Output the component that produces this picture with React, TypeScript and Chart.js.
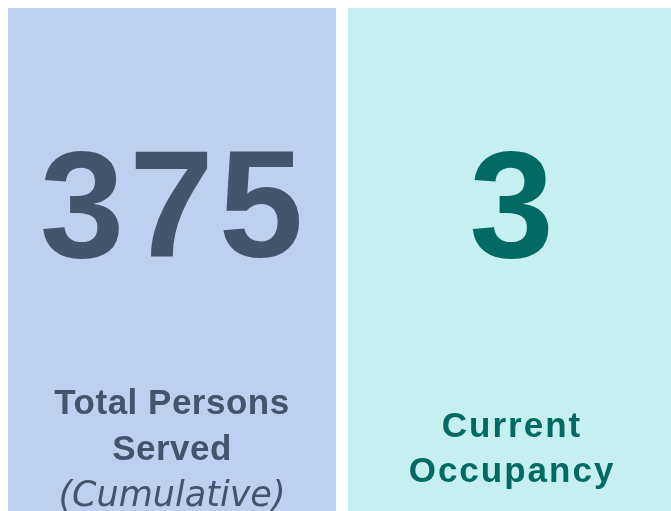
import React, { useEffect, useRef } from "react";
import { Chart, registerables } from "chart.js";

Chart.register(...registerables);

const categories = ["Total Persons Served (Cumulative)", "Current Occupancy"];
const kpiValues = [375, 3];
const cardHeights = [1, 1];
const labelLines = [
  [
    { text: "Total Persons", italic: false },
    { text: "Served", italic: false },
    { text: "(Cumulative)", italic: true },
  ],
  [
    { text: "Current", italic: false },
    { text: "Occupancy", italic: false },
  ],
];
const cardColors = ["#BFCFEF", "#C5F0EF"];
const textColors = ["#44546A", "#006A63"];

const kpiTextPlugin = {
  id: "kpiText",
  afterDatasetsDraw(chart: any) {
    const ctx = chart.ctx;
    const meta = chart.getDatasetMeta(0);
    ctx.save();
    ctx.textAlign = "center";
    ctx.textBaseline = "alphabetic";
    meta.data.forEach((bar: any, i: number) => {
      const x = bar.x;
      ctx.fillStyle = textColors[i];
      ctx.font = 'bold 152px "Liberation Sans", Arial, sans-serif';
      (ctx as any).letterSpacing = "5px";
      ctx.fillText(String(kpiValues[i]), x + 2, 257);
      const lines = labelLines[i];
      const baselines = i === 0 ? [414, 460, 506] : [437, 482];
      lines.forEach((ln, j) => {
        if (ln.italic) {
          ctx.font = 'oblique 35px "DejaVu Sans", sans-serif';
          (ctx as any).letterSpacing = "0px";
        } else {
          ctx.font = 'bold 35px "Liberation Sans", Arial, sans-serif';
          (ctx as any).letterSpacing = i === 1 ? "2px" : "0.5px";
        }
        ctx.fillText(ln.text, x, baselines[j]);
      });
    });
    ctx.restore();
  },
};

export default function App() {
  const ref = useRef<HTMLCanvasElement | null>(null);
  useEffect(() => {
    if (!ref.current) return;
    const chart = new Chart(ref.current, {
      type: "bar",
      data: {
        labels: categories,
        datasets: [
          {
            data: cardHeights,
            backgroundColor: cardColors,
            borderWidth: 0,
            barPercentage: 1,
            categoryPercentage: 328 / 340,
          },
        ],
      },
      options: {
        animation: false,
        responsive: false,
        maintainAspectRatio: false,
        layout: { padding: { top: 8, left: 0, right: 0, bottom: 0 } },
        plugins: { legend: { display: false }, tooltip: { enabled: false } },
        scales: {
          x: { display: false, offset: true },
          y: { display: false, min: 0, max: 1 },
        },
      },
      plugins: [kpiTextPlugin],
    });
    return () => chart.destroy();
  }, []);
  return (
    <div
      style={{
        position: "fixed",
        left: 0,
        top: 0,
        width: 671,
        height: 511,
        overflow: "hidden",
        background: "#fff",
      }}
    >
      <canvas
        ref={ref}
        width={680}
        height={511}
        style={{ position: "absolute", left: 2, top: 0, width: 680, height: 511 }}
      />
    </div>
  );
}
